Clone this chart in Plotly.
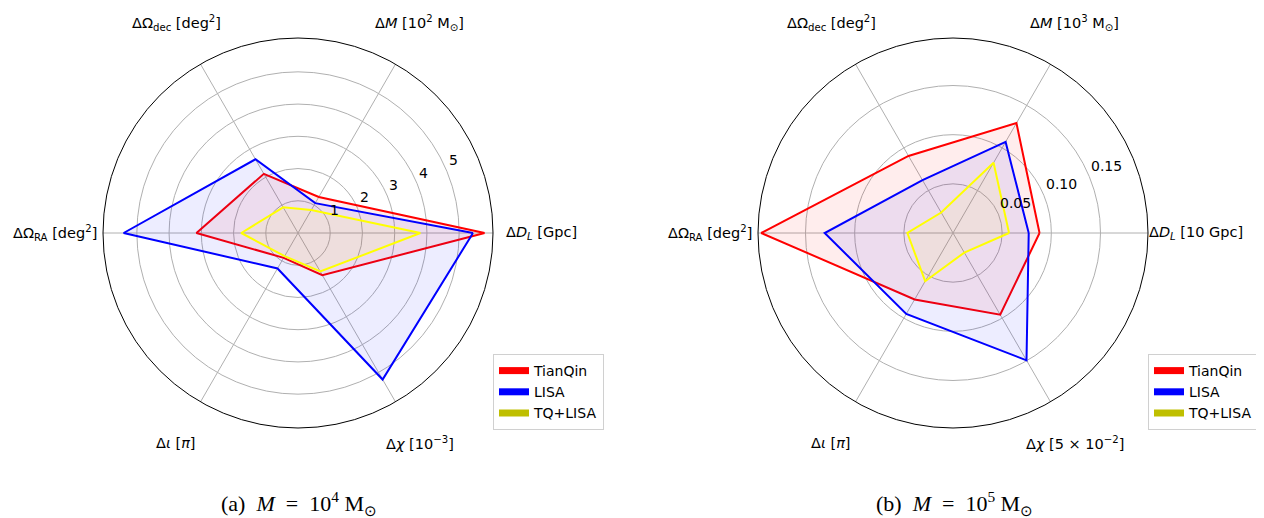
import math
import plotly.graph_objects as go

# ---------------- data ----------------
theta_deg = [0, 60, 120, 180, 240, 300]
series_names = ["TianQin", "LISA", "TQ+LISA"]

labels_a = ["Δ<i>D</i><sub><i>L</i></sub> [Gpc]",
            "Δ<i>M</i> [10<sup>2</sup> M<sub>⊙</sub>]",
            "ΔΩ<sub>dec</sub> [deg<sup>2</sup>]",
            "ΔΩ<sub>RA</sub> [deg<sup>2</sup>]",
            "Δ<i>ι</i> [<i>π</i>]",
            "Δ<i>χ</i> [10<sup>−3</sup>]"]
labels_b = ["Δ<i>D</i><sub><i>L</i></sub> [10 Gpc]",
            "Δ<i>M</i> [10<sup>3</sup> M<sub>⊙</sub>]",
            "ΔΩ<sub>dec</sub> [deg<sup>2</sup>]",
            "ΔΩ<sub>RA</sub> [deg<sup>2</sup>]",
            "Δ<i>ι</i> [<i>π</i>]",
            "Δ<i>χ</i> [5 × 10<sup>−2</sup>]"]

# (a) M = 1e4 Msun
tq_a = [5.79, 1.29, 2.12, 3.15, 0.89, 1.51]
lisa_a = [5.43, 1.07, 2.64, 5.41, 1.27, 5.25]
both_a = [3.80, 0.82, 0.92, 1.76, 0.83, 1.38]

# (b) M = 1e5 Msun
tq_b = [0.088, 0.129, 0.0905, 0.195, 0.078, 0.096]
lisa_b = [0.077, 0.107, 0.062, 0.1305, 0.095, 0.1495]
both_b = [0.057, 0.0825, 0.024, 0.0464, 0.0566, 0.023]

ticks_a = [1, 2, 3, 4, 5]
ticktext_a = ["1", "2", "3", "4", "5"]
ticks_b = [0.05, 0.10, 0.15]
ticktext_b = ["0.05", "0.10", "0.15"]
range_a = [0, 6.05]
range_b = [0, 0.1983]

captions = ["(a)&nbsp;&nbsp;<i>M</i>&nbsp;&nbsp;=&nbsp;&nbsp;10<sup>4</sup>&nbsp;M<sub>⊙</sub>",
            "(b)&nbsp;&nbsp;<i>M</i>&nbsp;&nbsp;=&nbsp;&nbsp;10<sup>5</sup>&nbsp;M<sub>⊙</sub>"]

# ---------------- style ----------------
line_colors = ["#ff0000", "#0000ff", "#ffff00"]
fill_colors = ["rgba(255,0,0,0.07)", "rgba(0,0,255,0.07)", "rgba(255,255,0,0.07)"]
legend_colors = ["#ff0000", "#0000ff", "#bfbf00"]
FONT = "DejaVu Sans"

OFF = 8                      # default page body margin
W, H = 1264 - OFF, 518 - OFF
R = 195
centers = [(298, 233), (953, 233)]   # window pixel coords
RLABEL_ANGLE = 22.5


def px(x):
    return (x - OFF) / W


def py(y):
    return (H - (y - OFF)) / H


fig = go.Figure()


def close(v):
    return list(v) + [v[0]]


sets = [
    ("polar", "legend", [tq_a, lisa_a, both_a]),
    ("polar2", "legend2", [tq_b, lisa_b, both_b]),
]
for sub, leg, vals in sets:
    for name, v, lc, fc in zip(series_names, vals, line_colors, fill_colors):
        fig.add_trace(go.Scatterpolar(
            r=close(v), theta=close(theta_deg), mode="lines",
            line=dict(color=lc, width=2), fill="toself", fillcolor=fc,
            subplot=sub, showlegend=False, hoverinfo="skip"))
    for name, lgc in zip(series_names, legend_colors):
        fig.add_trace(go.Scatterpolar(
            r=[None], theta=[None], mode="lines", name=name,
            line=dict(color=lgc, width=7), subplot=sub, legend=leg,
            showlegend=True))


def polar_layout(cx, cy, rng, tickvals):
    return dict(
        domain=dict(x=[px(cx - R), px(cx + R)], y=[py(cy + R), py(cy - R)]),
        bgcolor="white",
        radialaxis=dict(range=rng, tickvals=tickvals, showline=False, ticks="",
                        showticklabels=False, gridcolor="#b0b0b0", gridwidth=0.8,
                        angle=RLABEL_ANGLE),
        angularaxis=dict(rotation=0, direction="counterclockwise",
                         tickvals=theta_deg, showticklabels=False, ticks="",
                         gridcolor="#b0b0b0", gridwidth=0.8,
                         showline=True, linecolor="black", linewidth=1),
    )


legend_common = dict(xanchor="left", yanchor="top", bgcolor="white",
                     bordercolor="#d0d0d0", borderwidth=1,
                     font=dict(family=FONT, size=14), itemwidth=30,
                     tracegroupgap=0)

fig.update_layout(
    width=W, height=H, margin=dict(l=0, r=0, t=0, b=0),
    paper_bgcolor="white", plot_bgcolor="white",
    font=dict(family=FONT, size=14, color="black"),
    polar=polar_layout(*centers[0], range_a, ticks_a),
    polar2=polar_layout(*centers[1], range_b, ticks_b),
    legend=dict(x=px(493), y=py(354), **legend_common),
    legend2=dict(x=px(1148), y=py(354), **legend_common),
)

annotations = []
LR = 243
for (cx, cy), labels in zip(centers, [labels_a, labels_b]):
    for t, lab in zip(theta_deg, labels):
        x = cx + LR * math.cos(math.radians(t))
        y = cy - LR * math.sin(math.radians(t))
        annotations.append(dict(x=px(x), y=py(y), xref="paper", yref="paper",
                                text=lab, showarrow=False, xanchor="center",
                                yanchor="middle",
                                font=dict(family=FONT, size=14.5, color="black")))

# radial tick labels, placed along the 22.5 deg direction like the original
for (cx, cy), tv, tt, rng in zip(centers, [ticks_a, ticks_b], [ticktext_a, ticktext_b],
                                 [range_a, range_b]):
    scale = R / rng[1]
    for v, s in zip(tv, tt):
        x = cx + v * scale * math.cos(math.radians(RLABEL_ANGLE))
        y = cy - v * scale * math.sin(math.radians(RLABEL_ANGLE))
        annotations.append(dict(x=px(x), y=py(y - 1), xref="paper", yref="paper",
                                text=s, showarrow=False, xanchor="left",
                                yanchor="bottom",
                                font=dict(family=FONT, size=14, color="black")))

for (cx, cy), cap in zip(centers, captions):
    annotations.append(dict(x=px(cx + 1), y=py(503), xref="paper", yref="paper",
                            text=cap, showarrow=False, xanchor="center", yanchor="middle",
                            font=dict(family="Liberation Serif", size=22, color="black")))
fig.update_layout(annotations=annotations)

fig.write_html("out.html")
